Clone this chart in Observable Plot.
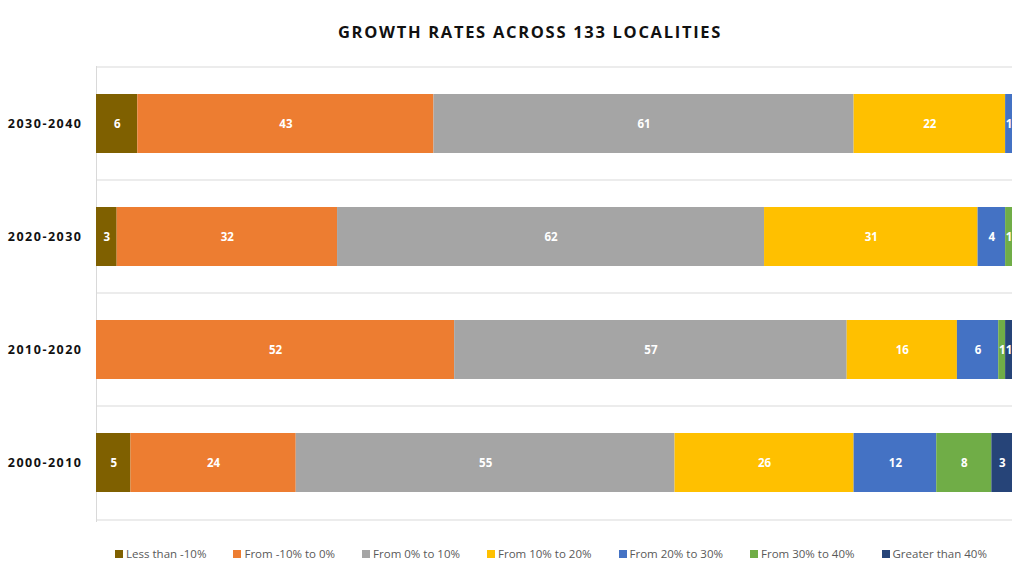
<!DOCTYPE html>
<html>
<head>
<meta charset="utf-8">
<script src="https://cdn.jsdelivr.net/npm/d3@7"></script>
<script src="https://cdn.jsdelivr.net/npm/@observablehq/plot@0.6"></script>
<style>
  body { margin: 0; background: #fff; font-family: "Open Sans", "Noto Sans", sans-serif; }
  #wrap { width: 1024px; height: 584px; position: relative; }
  #title { position: absolute; top: 21px; left: 18px; width: 1024px; text-align: center;
           font-size: 16.5px; font-weight: bold; letter-spacing: 1.7px; color: #111; line-height: 22px; }
  #chart { position: absolute; top: 48px; left: 0; }
  #legend { position: absolute; top: 546px; left: 0; width: 1024px; display: flex; justify-content: center;
            padding-left: 78px; box-sizing: border-box; gap: 27px; font-size: 11.5px; color: #595959; }
  #legend .item { display: flex; align-items: center; gap: 3px; }
  #legend .sw { width: 8px; height: 8px; display: inline-block; }
  g[aria-label="y-axis tick label"] text { letter-spacing: 1.5px; }
</style>
</head>
<body>
<div id="wrap">
  <div id="title">GROWTH RATES ACROSS 133 LOCALITIES</div>
  <div id="chart"></div>
  <div id="legend"></div>
</div>
<script>
const periods = ["2030-2040", "2020-2030", "2010-2020", "2000-2010"];
const bins = ["Less than -10%", "From -10% to 0%", "From 0% to 10%", "From 10% to 20%",
              "From 20% to 30%", "From 30% to 40%", "Greater than 40%"];
const colors = ["#7f6000", "#ed7d31", "#a5a5a5", "#ffc000", "#4472c4", "#70ad47", "#264478"];
// values per bin, in the order of periods
const lessThanMinus10 = [6, 3, 0, 5];
const minus10To0      = [43, 32, 52, 24];
const zeroTo10        = [61, 62, 57, 55];
const tenTo20         = [22, 31, 16, 26];
const twentyTo30      = [1, 4, 6, 12];
const thirtyTo40      = [0, 1, 1, 8];
const greaterThan40   = [0, 0, 1, 3];
const total = 133;

const series = [lessThanMinus10, minus10To0, zeroTo10, tenTo20, twentyTo30, thirtyTo40, greaterThan40];
const data = [];
periods.forEach((p, i) => {
  series.forEach((s, j) => {
    if (s[i] > 0) data.push({period: p, bin: bins[j], order: j, value: s[i]});
  });
});

const step = 114;
const plot = Plot.plot({
  width: 1024,
  height: 483,
  marginLeft: 96,
  marginRight: 12,
  marginTop: 18,
  marginBottom: 10,
  style: {fontFamily: "'Open Sans', 'Noto Sans', sans-serif", background: "#fff"},
  x: {domain: [0, total], axis: null},
  y: {domain: periods, paddingInner: 0.474, paddingOuter: 0.237, label: null},
  color: {domain: bins, range: colors},
  marks: [
    Plot.ruleY(periods, {y: d => d, x1: 0, x2: total, dy: -step / 2, stroke: "#d9d9d9", strokeWidth: 1}),
    Plot.ruleY(periods.slice(-1), {y: d => d, x1: 0, x2: total, dy: step / 2, stroke: "#d9d9d9", strokeWidth: 1}),
    Plot.frame({anchor: "left", stroke: "#d9d9d9", strokeWidth: 1}),
    Plot.barX(data, Plot.stackX({y: "period", x: "value", fill: "bin", order: "order"})),
    Plot.text(data, Plot.stackX({y: "period", x: "value", order: "order", text: d => String(d.value),
                                 fill: "white", fontWeight: "bold", fontSize: 11.5})),
    Plot.axisY({tickSize: 0, tickPadding: 14, fontSize: 12.5, fontWeight: "bold", fill: "#111"})
  ]
});
document.getElementById("chart").appendChild(plot);

const legend = document.getElementById("legend");
bins.forEach((b, i) => {
  const it = document.createElement("div");
  it.className = "item";
  const sw = document.createElement("span");
  sw.className = "sw";
  sw.style.background = colors[i];
  const t = document.createElement("span");
  t.textContent = b;
  it.appendChild(sw);
  it.appendChild(t);
  legend.appendChild(it);
});
</script>
</body>
</html>
